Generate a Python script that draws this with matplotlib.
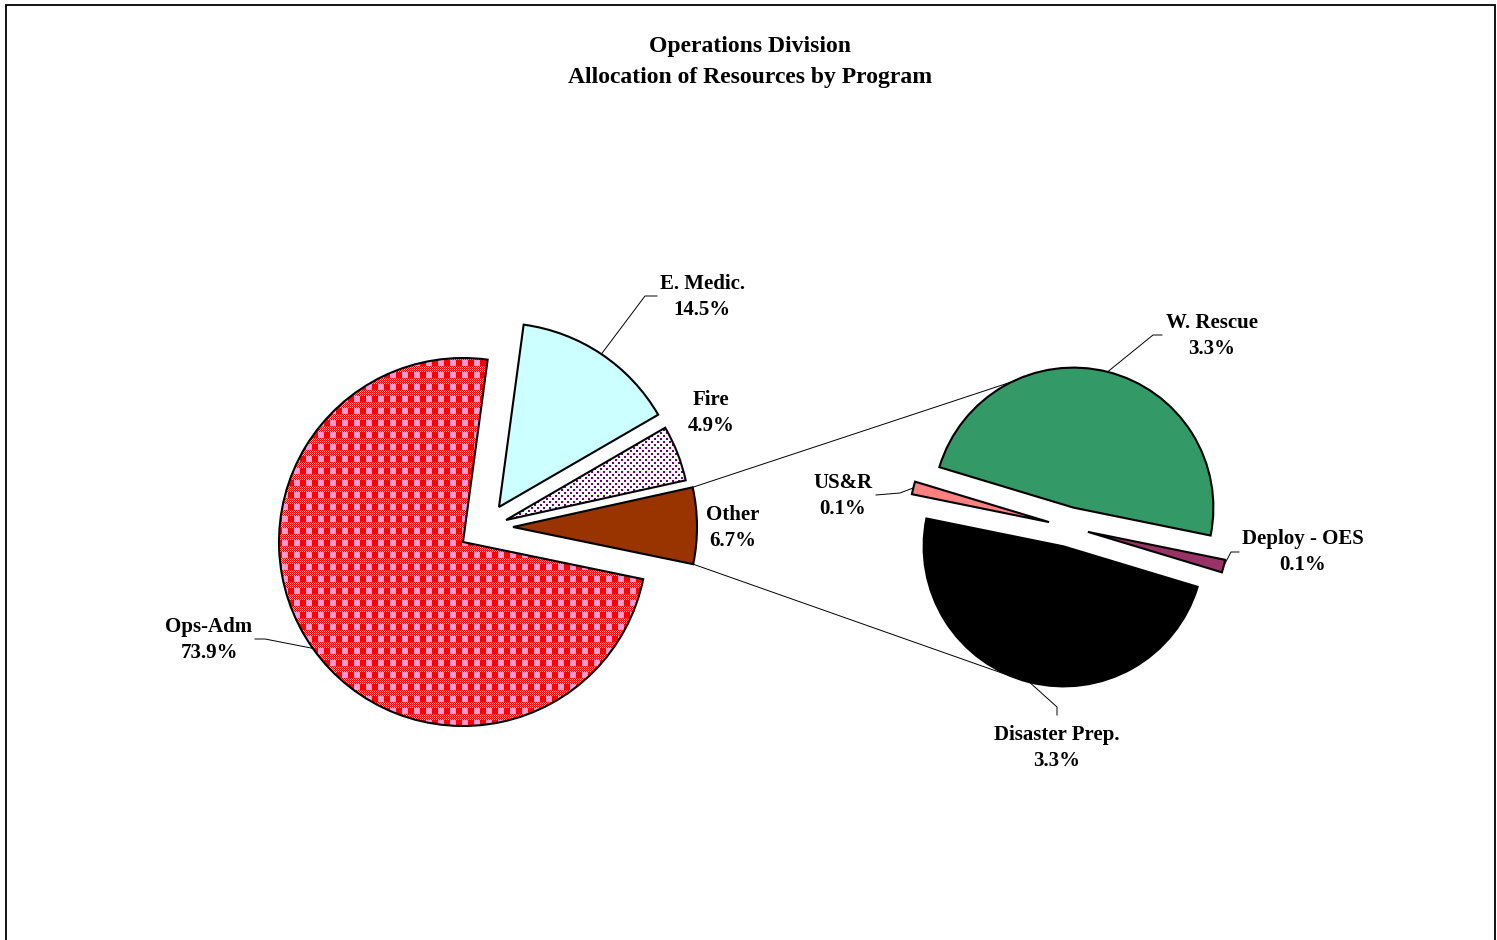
import numpy as np
import matplotlib
matplotlib.use("Agg")
import matplotlib.pyplot as plt

# ---------------- data ----------------
title_lines = ["Operations Division", "Allocation of Resources by Program"]
main_labels = ["E. Medic.", "Fire", "Other", "Ops-Adm"]
main_pct = [14.5, 4.9, 6.7, 73.9]
sub_labels = ["W. Rescue", "US&R", "Disaster Prep.", "Deploy - OES"]
sub_pct = [3.3, 0.1, 3.3, 0.1]

# ---------------- layout / style ----------------
W, H = 1497, 940
FONT = "Liberation Serif"


def P(x, y):
    """image-pixel coordinates (y down) -> axes data coords (y up)"""
    return (x, H - y)


fig = plt.figure(figsize=(W / 100, H / 100), dpi=100)
ax = fig.add_axes([0, 0, 1, 1])

C1 = P(463, 542)
R1 = 184
C2 = P(1068.5, 527)
R2 = 140
main_offsets = [(36, 35), (43, 22), (50, 15), (0, 0)]
main_colors = ["#CCFFFF", "none", "#993300", "none"]
sub_colors = ["#339966", "#FF8080", "#000000", "#993366"]
edge_kw = dict(edgecolor="black", linewidth=1.5)

w1, _ = ax.pie(main_pct, startangle=82.3, counterclock=False, center=C1,
               radius=R1, colors=main_colors, wedgeprops=edge_kw)
for w, (dx, dy) in zip(w1, main_offsets):
    w.set_center((C1[0] + dx, C1[1] + dy))

# explode is an absolute distance (data units = pixels here)
w2, _ = ax.pie(sub_pct, startangle=-11.5, counterclock=True, center=C2,
               radius=R2, colors=sub_colors, explode=[20] * 4,
               wedgeprops=edge_kw)

# ---------------- fill patterns ----------------
red = np.array([1.0, 0.0, 0.0])
pink = np.array([1.0, 0.6, 0.8])
tile = np.zeros((12, 12, 3))
tile[:6, :6] = red
tile[:6, 6:] = pink
yy, xx = np.mgrid[0:6, 0:12]
chk = ((yy + xx) % 2 == 0)
tile[6:][chk] = red
tile[6:][~chk] = pink
plaid = np.tile(tile, (H // 12 + 1, W // 12 + 1, 1))[:H, :W]

purple = np.array([0.45, 0.0, 0.45])
dtile = np.ones((6, 6, 3))
dtile[0:2, 0:2] = purple
dtile[3:5, 3:5] = purple
dots = np.tile(dtile, (H // 6 + 1, W // 6 + 1, 1))[:H, :W]

for img, wedge in ((plaid, w1[3]), (dots, w1[1])):
    im = ax.imshow(img, extent=(0, W, 0, H), origin="upper",
                   interpolation="nearest", zorder=0.5)
    im.set_clip_path(wedge)


def arc_pt(w, ang):
    cx, cy = w.center
    return (cx + w.r * np.cos(np.radians(ang)), cy + w.r * np.sin(np.radians(ang)))


def mid(w):
    return 0.5 * (w.theta1 + w.theta2)


# ---------------- connector lines between pies ----------------
other = w1[2]
for ang_main, w_sub, ang_sub in ((other.theta2, w2[0], 116), (other.theta1, w2[2], 252)):
    p0 = arc_pt(other, ang_main)
    p1 = arc_pt(w_sub, ang_sub)
    ax.plot([p0[0], p1[0]], [p0[1], p1[1]], color="black", lw=0.7, zorder=2)

# ---------------- labels ----------------
lab_kw = dict(fontsize=15, fontweight="bold", family=FONT, ha="center",
              va="center", linespacing=1.38, zorder=3)

main_text_pos = [P(702, 297), P(711, 413), P(733, 528), P(209, 640)]
main_leaders = [  # (elbow, end) or None
    (P(645, 296), P(657, 296)),
    None,
    None,
    (P(265, 639), P(255, 639)),
]
for w, name, val, pos, ld in zip(w1, main_labels, main_pct, main_text_pos, main_leaders):
    ax.text(*pos, f"{name}\n{val:.1f}%", **lab_kw)
    if ld:
        a = arc_pt(w, mid(w))
        xs = [a[0], ld[0][0], ld[1][0]]
        ys = [a[1], ld[0][1], ld[1][1]]
        ax.plot(xs, ys, color="black", lw=0.7, zorder=2)

sub_text_pos = [P(1212, 336), P(843, 496), P(1057, 748), P(1303, 552)]
sub_leaders = [
    (P(1153, 335), P(1162, 335)),
    (P(900, 493), P(876, 495)),
    (P(1057, 707), P(1057, 715)),
    (P(1231, 552), P(1239, 552)),
]
for w, name, val, pos, ld in zip(w2, sub_labels, sub_pct, sub_text_pos, sub_leaders):
    ax.text(*pos, f"{name}\n{val:.1f}%", **lab_kw)
    a = arc_pt(w, mid(w))
    ax.plot([a[0], ld[0][0], ld[1][0]], [a[1], ld[0][1], ld[1][1]],
            color="black", lw=0.7, zorder=2)

# ---------------- title ----------------
ax.text(*P(750, 62), "\n".join(title_lines), fontsize=17, fontweight="bold",
        family=FONT, ha="center", va="center", linespacing=1.62)

# ---------------- chart border ----------------
ax.plot([6, 6, 1495, 1495], [0, H - 5, H - 5, 0], color="black", lw=1.3,
        solid_joinstyle="miter", zorder=3)

ax.set_xlim(0, W)
ax.set_ylim(0, H)
ax.set_aspect("equal")
ax.axis("off")

fig.savefig("out.png", dpi=100)
